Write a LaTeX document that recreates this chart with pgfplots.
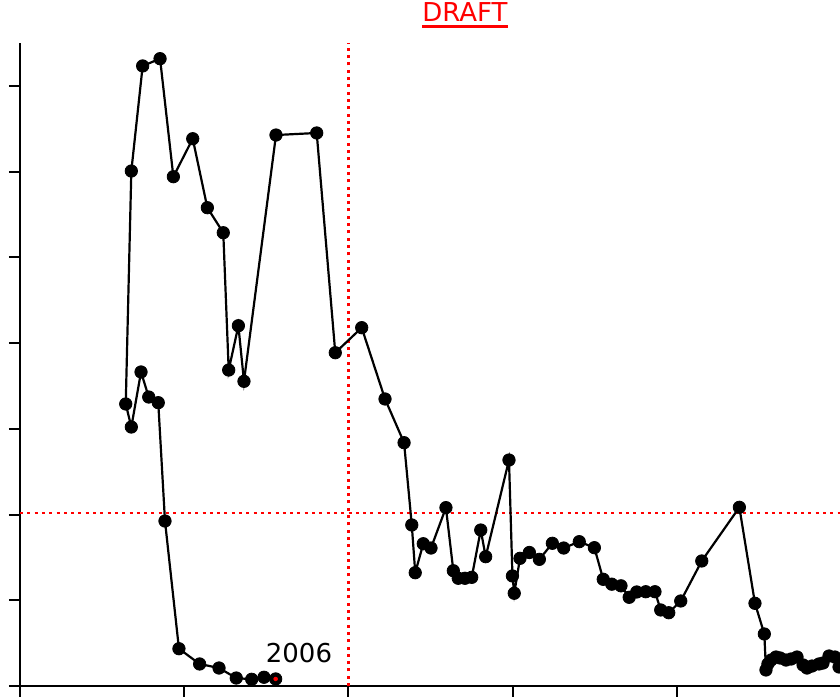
\documentclass[border=0pt]{standalone}
\usepackage{fontspec}
\setmainfont{DejaVu Sans}
\usepackage{pgfplots}
\pgfplotsset{compat=1.18}
\begin{document}
\begin{tikzpicture}
\begin{axis}[
  name=ax,
  at={(0,0)}, anchor=south west,
  x=164.2pt, y=85.7pt,
  xmin=0, xmax=5.42, ymin=0, ymax=7.5,
  axis x line*=bottom, axis y line*=left,
  axis line style={black, line width=2pt},
  xtick={0,1,2,3,4,5}, ytick={0,1,2,3,4,5,6,7},
  xticklabels={}, yticklabels={},
  tick align=outside, major tick length=11pt,
  tick style={black, line width=2pt},
  clip=false,
  title={\vtop{\hbox{DRAFT}\kern 3.4pt\hrule height 2.2pt}},
  title style={at={(0.5,1)}, anchor=base, yshift=15.3pt, text=red, font=\fontsize{26}{30}\selectfont, inner sep=0pt},
]
\addplot[red, line width=2.3pt, dash pattern=on 3pt off 4.3pt] coordinates {(2,0) (2,7.5)};
\addplot[red, line width=2.3pt, dash pattern=on 3pt off 4.3pt] coordinates {(0,2.02) (5.42,2.02)};
\addplot[black, line width=2.2pt, mark=*, mark size=6.2pt, mark options={fill=black, line width=0.8pt}] coordinates {
(5.03,0.257) (4.988,0.222) (4.963,0.338) (4.927,0.350) (4.890,0.268) (4.866,0.257) (4.823,0.233) (4.793,0.210) (4.769,0.245) (4.732,0.338) (4.696,0.315) (4.665,0.303) (4.629,0.327) (4.604,0.338) (4.574,0.303) (4.555,0.257) (4.543,0.187)
(4.533,0.607) (4.476,0.965) (4.381,2.085) (4.152,1.459) (4.024,0.992) (3.951,0.855) (3.902,0.887) (3.867,1.100) (3.811,1.100) (3.756,1.097) (3.710,1.035) (3.660,1.169) (3.604,1.188) (3.552,1.245) (3.498,1.614) (3.406,1.684) (3.311,1.610) (3.242,1.665) (3.163,1.478) (3.102,1.558) (3.045,1.490) (3.010,1.082) (2.999,1.284) (2.978,2.637) (2.836,1.509) (2.806,1.820) (2.751,1.268) (2.710,1.257) (2.669,1.257) (2.639,1.345) (2.594,2.081) (2.503,1.610) (2.456,1.660) (2.407,1.322) (2.386,1.879) (2.339,2.839) (2.223,3.349) (2.081,4.181) (1.920,3.889) (1.807,6.453) (1.559,6.429) (1.364,3.555) (1.330,4.204) (1.271,3.687) (1.238,5.289) (1.141,5.581) (1.052,6.386) (0.934,5.943) (0.853,7.320) (0.747,7.235) (0.678,6.009) (0.644,3.291) (0.678,3.022) (0.737,3.664) (0.784,3.372) (0.842,3.306) (0.883,1.925) (0.968,0.435) (1.094,0.257) (1.212,0.210) (1.317,0.093) (1.411,0.078) (1.486,0.102) (1.557,0.082)
};
\addplot[only marks, mark=*, mark size=2pt, red, mark options={draw=red, fill=red}] coordinates {(1.557,0.082)};
\node[anchor=base, inner sep=0pt, font=\fontsize{26}{30}\selectfont] at (axis cs:1.699,0.277) {2006};
\end{axis}
\pgfresetboundingbox
\useasboundingbox ([xshift=-20pt,yshift=-10pt]ax.south west) rectangle ([xshift=820pt,yshift=686pt]ax.south west);
\end{tikzpicture}
\end{document}
